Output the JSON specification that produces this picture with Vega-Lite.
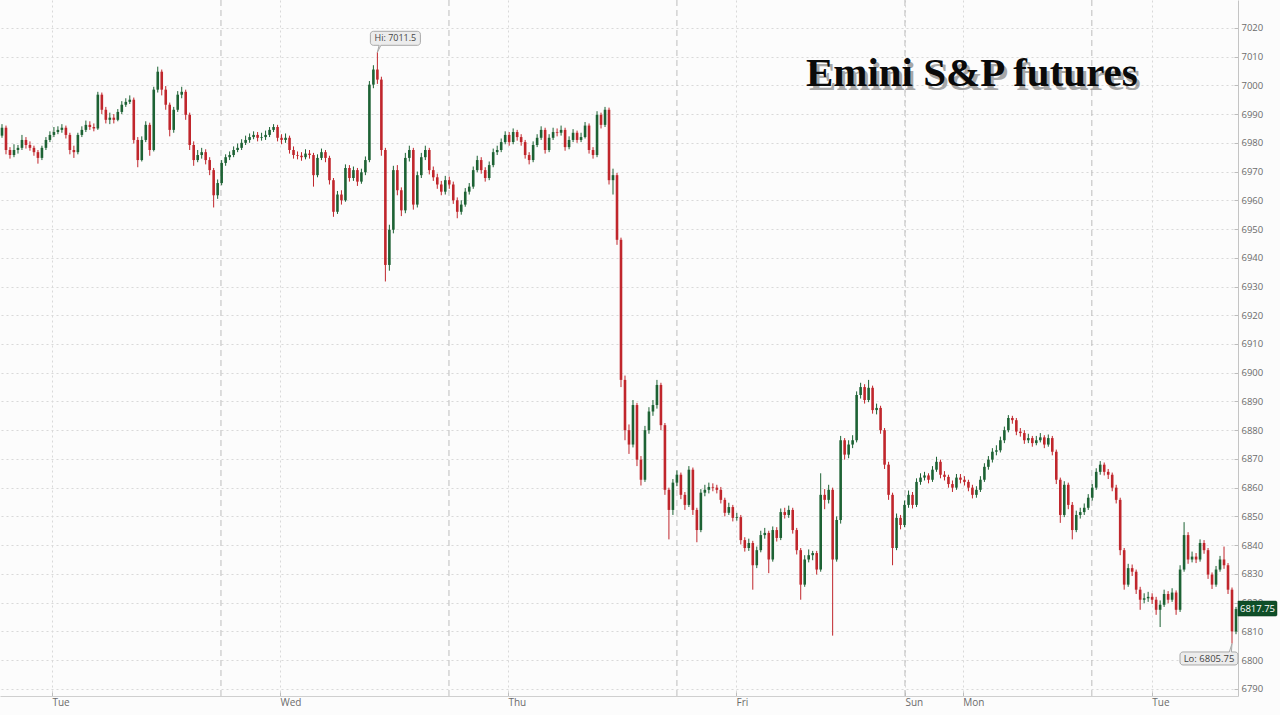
{
"$schema": "https://vega.github.io/schema/vega-lite/v6.json",
"width": 1238,
"height": 696,
"autosize": {"type": "none"},
"padding": {"left": 0, "top": 0, "right": 42, "bottom": 19},
"background": "#fcfcfc",
"config": {"view": {"stroke": null}, "axisY": {"labelOverlap": false, "labelSeparation": 0, "labelBound": false}},
"datasets": {
"candles": [
{"i":0,"o":6982.5,"h":6986.5,"l":6981.75,"c":6985.25},
{"i":1,"o":6985.25,"h":6986,"l":6976,"c":6977.5},
{"i":2,"o":6977.5,"h":6978.5,"l":6974.5,"c":6975.75},
{"i":3,"o":6975.75,"h":6979.5,"l":6975,"c":6977.5},
{"i":4,"o":6977.5,"h":6979.25,"l":6976.25,"c":6978.25},
{"i":5,"o":6978.25,"h":6982.75,"l":6977.5,"c":6981},
{"i":6,"o":6981,"h":6982,"l":6978,"c":6979.25},
{"i":7,"o":6979.25,"h":6980.5,"l":6977.25,"c":6978.25},
{"i":8,"o":6978.25,"h":6979,"l":6975.5,"c":6976.75},
{"i":9,"o":6976.75,"h":6977.5,"l":6972.75,"c":6974.75},
{"i":10,"o":6974.75,"h":6979,"l":6974,"c":6978.25},
{"i":11,"o":6978.25,"h":6982,"l":6977.5,"c":6981},
{"i":12,"o":6981,"h":6984,"l":6980.25,"c":6982.75},
{"i":13,"o":6982.75,"h":6985.5,"l":6982,"c":6983.75},
{"i":14,"o":6983.75,"h":6985.75,"l":6983,"c":6984.5},
{"i":15,"o":6984.5,"h":6986.5,"l":6983.5,"c":6985.25},
{"i":16,"o":6985.25,"h":6986,"l":6981.5,"c":6982.75},
{"i":17,"o":6982.75,"h":6983.5,"l":6976,"c":6977.5},
{"i":18,"o":6977.5,"h":6979,"l":6974.75,"c":6976.75},
{"i":19,"o":6976.75,"h":6983.5,"l":6976,"c":6982.75},
{"i":20,"o":6982.75,"h":6985.75,"l":6982,"c":6984.5},
{"i":21,"o":6984.5,"h":6987.75,"l":6983.75,"c":6986.25},
{"i":22,"o":6986.25,"h":6987.5,"l":6984.5,"c":6985.5},
{"i":23,"o":6985.5,"h":6986.75,"l":6984,"c":6985},
{"i":24,"o":6985,"h":6997.75,"l":6984.5,"c":6996.75},
{"i":25,"o":6996.75,"h":6997.5,"l":6990,"c":6991.5},
{"i":26,"o":6991.5,"h":6992.5,"l":6986.75,"c":6988},
{"i":27,"o":6988,"h":6990.5,"l":6986.5,"c":6988.75},
{"i":28,"o":6988.75,"h":6990,"l":6986.75,"c":6988},
{"i":29,"o":6988,"h":6991.75,"l":6987.5,"c":6990.75},
{"i":30,"o":6990.75,"h":6994.5,"l":6990,"c":6993.25},
{"i":31,"o":6993.25,"h":6995.5,"l":6992.5,"c":6994.25},
{"i":32,"o":6994.25,"h":6996.5,"l":6993.5,"c":6995},
{"i":33,"o":6995,"h":6995.75,"l":6979.75,"c":6981},
{"i":34,"o":6981,"h":6982,"l":6971.5,"c":6974},
{"i":35,"o":6974,"h":6982.25,"l":6973.5,"c":6981},
{"i":36,"o":6981,"h":6987.5,"l":6980.25,"c":6986.25},
{"i":37,"o":6986.25,"h":6987,"l":6975.5,"c":6977.5},
{"i":38,"o":6977.5,"h":6999.5,"l":6977,"c":6998.5},
{"i":39,"o":6998.5,"h":7006.5,"l":6997.5,"c":7004.75},
{"i":40,"o":7004.75,"h":7005.5,"l":6996.5,"c":6998.5},
{"i":41,"o":6998.5,"h":6999.75,"l":6991.5,"c":6993.25},
{"i":42,"o":6993.25,"h":6994,"l":6982.25,"c":6984.5},
{"i":43,"o":6984.5,"h":6992.5,"l":6983.5,"c":6991.5},
{"i":44,"o":6991.5,"h":6998,"l":6990.75,"c":6996.75},
{"i":45,"o":6996.75,"h":6999.5,"l":6995.5,"c":6997.75},
{"i":46,"o":6997.75,"h":6998.5,"l":6988,"c":6989.75},
{"i":47,"o":6989.75,"h":6990.5,"l":6977.5,"c":6979.25},
{"i":48,"o":6979.25,"h":6980.5,"l":6972,"c":6974},
{"i":49,"o":6974,"h":6977.5,"l":6973.25,"c":6975.75},
{"i":50,"o":6975.75,"h":6978.25,"l":6974.5,"c":6976.75},
{"i":51,"o":6976.75,"h":6977.75,"l":6972.5,"c":6974},
{"i":52,"o":6974,"h":6975,"l":6968.75,"c":6970.5},
{"i":53,"o":6970.5,"h":6971.25,"l":6957.5,"c":6961.75},
{"i":54,"o":6961.75,"h":6967.25,"l":6960.5,"c":6966},
{"i":55,"o":6966,"h":6974,"l":6965.25,"c":6973},
{"i":56,"o":6973,"h":6976,"l":6972,"c":6975},
{"i":57,"o":6975,"h":6977,"l":6974,"c":6975.75},
{"i":58,"o":6975.75,"h":6978.75,"l":6975,"c":6977.5},
{"i":59,"o":6977.5,"h":6979.75,"l":6976.75,"c":6978.25},
{"i":60,"o":6978.25,"h":6981.25,"l":6977.5,"c":6980},
{"i":61,"o":6980,"h":6982.5,"l":6979.25,"c":6981},
{"i":62,"o":6981,"h":6983.25,"l":6980,"c":6982},
{"i":63,"o":6982,"h":6984,"l":6981.25,"c":6982.75},
{"i":64,"o":6982.75,"h":6983.75,"l":6980.5,"c":6981.75},
{"i":65,"o":6981.75,"h":6983.5,"l":6980.75,"c":6982},
{"i":66,"o":6982,"h":6984.25,"l":6981,"c":6982.75},
{"i":67,"o":6982.75,"h":6985.5,"l":6982,"c":6984.5},
{"i":68,"o":6984.5,"h":6986.5,"l":6983.75,"c":6985.5},
{"i":69,"o":6985.5,"h":6986.25,"l":6980.5,"c":6981.75},
{"i":70,"o":6981.75,"h":6983,"l":6979.5,"c":6981},
{"i":71,"o":6981,"h":6983.25,"l":6980,"c":6981.75},
{"i":72,"o":6981.75,"h":6982.5,"l":6976.25,"c":6977.5},
{"i":73,"o":6977.5,"h":6978.75,"l":6974.5,"c":6975.75},
{"i":74,"o":6975.75,"h":6977,"l":6974.25,"c":6975.5},
{"i":75,"o":6975.5,"h":6976.75,"l":6973.75,"c":6975},
{"i":76,"o":6975,"h":6977.75,"l":6974.25,"c":6976.25},
{"i":77,"o":6976.25,"h":6977.5,"l":6974.5,"c":6975.75},
{"i":78,"o":6975.75,"h":6976.5,"l":6964.75,"c":6968.75},
{"i":79,"o":6968.75,"h":6976,"l":6968,"c":6974.75},
{"i":80,"o":6974.75,"h":6978,"l":6974,"c":6976.75},
{"i":81,"o":6976.75,"h":6977.5,"l":6973.25,"c":6974.75},
{"i":82,"o":6974.75,"h":6975.5,"l":6965.5,"c":6967},
{"i":83,"o":6967,"h":6967.75,"l":6954.25,"c":6956},
{"i":84,"o":6956,"h":6963.25,"l":6955.25,"c":6962},
{"i":85,"o":6962,"h":6963.5,"l":6958.5,"c":6960},
{"i":86,"o":6960,"h":6972.5,"l":6959.5,"c":6971.25},
{"i":87,"o":6971.25,"h":6972.25,"l":6966.5,"c":6967.75},
{"i":88,"o":6967.75,"h":6971.75,"l":6966.75,"c":6970.5},
{"i":89,"o":6970.5,"h":6971.25,"l":6965,"c":6966.5},
{"i":90,"o":6966.5,"h":6971,"l":6965.75,"c":6969.75},
{"i":91,"o":6969.75,"h":6975.25,"l":6968.75,"c":6974},
{"i":92,"o":6974,"h":7001.5,"l":6973.25,"c":7000.25},
{"i":93,"o":7000.25,"h":7007,"l":6999,"c":7005.5},
{"i":94,"o":7005.5,"h":7011.5,"l":7000.5,"c":7002},
{"i":95,"o":7002,"h":7003,"l":6975.5,"c":6977.5},
{"i":96,"o":6977.5,"h":6978.25,"l":6931.75,"c":6937.5},
{"i":97,"o":6937.5,"h":6951.5,"l":6935.5,"c":6949.75},
{"i":98,"o":6949.75,"h":6972,"l":6948.5,"c":6970.5},
{"i":99,"o":6970.5,"h":6972.25,"l":6961.75,"c":6963.5},
{"i":100,"o":6963.5,"h":6964.5,"l":6954.5,"c":6956.5},
{"i":101,"o":6956.5,"h":6976.5,"l":6955.5,"c":6974.75},
{"i":102,"o":6974.75,"h":6979,"l":6973.5,"c":6977.5},
{"i":103,"o":6977.5,"h":6978.25,"l":6956.75,"c":6958.5},
{"i":104,"o":6958.5,"h":6970,"l":6957.5,"c":6968.75},
{"i":105,"o":6968.75,"h":6976.5,"l":6967.75,"c":6975},
{"i":106,"o":6975,"h":6979,"l":6974,"c":6977.5},
{"i":107,"o":6977.5,"h":6978.25,"l":6969,"c":6970.5},
{"i":108,"o":6970.5,"h":6971.75,"l":6966.75,"c":6968},
{"i":109,"o":6968,"h":6969.25,"l":6964,"c":6965.5},
{"i":110,"o":6965.5,"h":6966.75,"l":6961.75,"c":6963},
{"i":111,"o":6963,"h":6968.5,"l":6962,"c":6967},
{"i":112,"o":6967,"h":6968.25,"l":6964,"c":6965.5},
{"i":113,"o":6965.5,"h":6966.5,"l":6958.75,"c":6960},
{"i":114,"o":6960,"h":6961,"l":6953.75,"c":6956},
{"i":115,"o":6956,"h":6960,"l":6955,"c":6958.5},
{"i":116,"o":6958.5,"h":6964.25,"l":6957.75,"c":6963},
{"i":117,"o":6963,"h":6966,"l":6962,"c":6964.75},
{"i":118,"o":6964.75,"h":6971.75,"l":6964,"c":6970.5},
{"i":119,"o":6970.5,"h":6975.5,"l":6969.75,"c":6974},
{"i":120,"o":6974,"h":6975,"l":6969.25,"c":6970.5},
{"i":121,"o":6970.5,"h":6971.5,"l":6966.5,"c":6967.75},
{"i":122,"o":6967.75,"h":6973.5,"l":6967,"c":6972.25},
{"i":123,"o":6972.25,"h":6978,"l":6971.5,"c":6976.75},
{"i":124,"o":6976.75,"h":6979,"l":6975.75,"c":6977.5},
{"i":125,"o":6977.5,"h":6981.5,"l":6976.75,"c":6980.25},
{"i":126,"o":6980.25,"h":6984,"l":6979.5,"c":6982.75},
{"i":127,"o":6982.75,"h":6983.75,"l":6979,"c":6980.25},
{"i":128,"o":6980.25,"h":6985,"l":6979.5,"c":6983.75},
{"i":129,"o":6983.75,"h":6984.5,"l":6980.75,"c":6982},
{"i":130,"o":6982,"h":6983,"l":6979,"c":6980.25},
{"i":131,"o":6980.25,"h":6981,"l":6974.5,"c":6975.75},
{"i":132,"o":6975.75,"h":6976.75,"l":6972.5,"c":6974},
{"i":133,"o":6974,"h":6980.5,"l":6973.25,"c":6979.25},
{"i":134,"o":6979.25,"h":6983,"l":6978.5,"c":6981.75},
{"i":135,"o":6981.75,"h":6985.75,"l":6981,"c":6984.5},
{"i":136,"o":6984.5,"h":6985.25,"l":6976.25,"c":6977.5},
{"i":137,"o":6977.5,"h":6983,"l":6976.75,"c":6981.75},
{"i":138,"o":6981.75,"h":6985.25,"l":6981,"c":6983.75},
{"i":139,"o":6983.75,"h":6985,"l":6982.25,"c":6983.5},
{"i":140,"o":6983.5,"h":6986,"l":6982.5,"c":6984.5},
{"i":141,"o":6984.5,"h":6985.25,"l":6977.25,"c":6978.5},
{"i":142,"o":6978.5,"h":6982.25,"l":6977.75,"c":6981},
{"i":143,"o":6981,"h":6984.75,"l":6980.25,"c":6983.5},
{"i":144,"o":6983.5,"h":6984.25,"l":6980,"c":6981},
{"i":145,"o":6981,"h":6983.5,"l":6980.25,"c":6982},
{"i":146,"o":6982,"h":6987.25,"l":6981.5,"c":6986},
{"i":147,"o":6986,"h":6986.75,"l":6976.25,"c":6977.5},
{"i":148,"o":6977.5,"h":6978.5,"l":6974.5,"c":6975.75},
{"i":149,"o":6975.75,"h":6991,"l":6975,"c":6989.75},
{"i":150,"o":6989.75,"h":6990.5,"l":6985,"c":6986.25},
{"i":151,"o":6986.25,"h":6992.5,"l":6985.5,"c":6991.5},
{"i":152,"o":6991.5,"h":6992.25,"l":6965.5,"c":6967},
{"i":153,"o":6967,"h":6971,"l":6962,"c":6968.75},
{"i":154,"o":6968.75,"h":6969.5,"l":6944.5,"c":6946.25},
{"i":155,"o":6946.25,"h":6947,"l":6895,"c":6897.5},
{"i":156,"o":6897.5,"h":6899,"l":6876.5,"c":6880},
{"i":157,"o":6880,"h":6882,"l":6871.75,"c":6875},
{"i":158,"o":6875,"h":6890.5,"l":6874,"c":6888.75},
{"i":159,"o":6888.75,"h":6889.5,"l":6867.5,"c":6869.75},
{"i":160,"o":6869.75,"h":6871,"l":6860.75,"c":6862.75},
{"i":161,"o":6862.75,"h":6881.5,"l":6862,"c":6880},
{"i":162,"o":6880,"h":6888,"l":6878.75,"c":6886.5},
{"i":163,"o":6886.5,"h":6890.5,"l":6885,"c":6888.75},
{"i":164,"o":6888.75,"h":6897.5,"l":6887.5,"c":6895.75},
{"i":165,"o":6895.75,"h":6896.5,"l":6880,"c":6881.75},
{"i":166,"o":6881.75,"h":6882.5,"l":6857.5,"c":6859.25},
{"i":167,"o":6859.25,"h":6860,"l":6842,"c":6852.25},
{"i":168,"o":6852.25,"h":6863,"l":6850.5,"c":6861.75},
{"i":169,"o":6861.75,"h":6866,"l":6860.5,"c":6864.5},
{"i":170,"o":6864.5,"h":6865.25,"l":6856,"c":6857.5},
{"i":171,"o":6857.5,"h":6858.5,"l":6852.25,"c":6854},
{"i":172,"o":6854,"h":6867.5,"l":6853.25,"c":6866.25},
{"i":173,"o":6866.25,"h":6867,"l":6850.5,"c":6852.25},
{"i":174,"o":6852.25,"h":6853,"l":6841,"c":6845.25},
{"i":175,"o":6845.25,"h":6859.5,"l":6844.5,"c":6858.25},
{"i":176,"o":6858.25,"h":6861,"l":6857,"c":6859.25},
{"i":177,"o":6859.25,"h":6861.75,"l":6858,"c":6860.25},
{"i":178,"o":6860.25,"h":6861.5,"l":6858.75,"c":6860},
{"i":179,"o":6860,"h":6861,"l":6858,"c":6859.25},
{"i":180,"o":6859.25,"h":6860.25,"l":6854.5,"c":6855.75},
{"i":181,"o":6855.75,"h":6856.5,"l":6850,"c":6851.25},
{"i":182,"o":6851.25,"h":6854.75,"l":6850.5,"c":6853.25},
{"i":183,"o":6853.25,"h":6854,"l":6848.25,"c":6849.5},
{"i":184,"o":6849.5,"h":6851.25,"l":6848.5,"c":6849.75},
{"i":185,"o":6849.75,"h":6850.5,"l":6840.25,"c":6841.75},
{"i":186,"o":6841.75,"h":6842.75,"l":6837.75,"c":6839},
{"i":187,"o":6839,"h":6842.25,"l":6838,"c":6840.75},
{"i":188,"o":6840.75,"h":6841.5,"l":6824.5,"c":6833},
{"i":189,"o":6833,"h":6839.5,"l":6832,"c":6838.25},
{"i":190,"o":6838.25,"h":6845,"l":6837.5,"c":6843.5},
{"i":191,"o":6843.5,"h":6846,"l":6842.25,"c":6844.25},
{"i":192,"o":6844.25,"h":6845,"l":6830.25,"c":6835},
{"i":193,"o":6835,"h":6846.5,"l":6834.25,"c":6845.25},
{"i":194,"o":6845.25,"h":6846.25,"l":6841.25,"c":6842.5},
{"i":195,"o":6842.5,"h":6852.75,"l":6841.75,"c":6851.5},
{"i":196,"o":6851.5,"h":6853,"l":6849.25,"c":6850.5},
{"i":197,"o":6850.5,"h":6853.75,"l":6849.5,"c":6852.25},
{"i":198,"o":6852.25,"h":6853,"l":6844,"c":6845.25},
{"i":199,"o":6845.25,"h":6846,"l":6836.75,"c":6838.25},
{"i":200,"o":6838.25,"h":6839,"l":6821,"c":6826.25},
{"i":201,"o":6826.25,"h":6836.5,"l":6825.5,"c":6835},
{"i":202,"o":6835,"h":6838.5,"l":6834,"c":6836.5},
{"i":203,"o":6836.5,"h":6838,"l":6834.75,"c":6837.25},
{"i":204,"o":6837.25,"h":6838,"l":6829.75,"c":6831.5},
{"i":205,"o":6831.5,"h":6865,"l":6830.75,"c":6857.5},
{"i":206,"o":6857.5,"h":6859.5,"l":6852.5,"c":6855.75},
{"i":207,"o":6855.75,"h":6861,"l":6854.5,"c":6859.25},
{"i":208,"o":6859.25,"h":6860,"l":6808.5,"c":6835},
{"i":209,"o":6835,"h":6850,"l":6834.25,"c":6848.75},
{"i":210,"o":6848.75,"h":6878,"l":6847.5,"c":6876.5},
{"i":211,"o":6876.5,"h":6877.25,"l":6869.75,"c":6871.5},
{"i":212,"o":6871.5,"h":6876.5,"l":6870.25,"c":6875},
{"i":213,"o":6875,"h":6878.25,"l":6873.75,"c":6876.5},
{"i":214,"o":6876.5,"h":6893.5,"l":6875.75,"c":6892.25},
{"i":215,"o":6892.25,"h":6896.5,"l":6891,"c":6895},
{"i":216,"o":6895,"h":6896,"l":6889.25,"c":6890.5},
{"i":217,"o":6890.5,"h":6897.5,"l":6889.75,"c":6894.75},
{"i":218,"o":6894.75,"h":6895.5,"l":6885.75,"c":6887},
{"i":219,"o":6887,"h":6889.25,"l":6885.5,"c":6887.75},
{"i":220,"o":6887.75,"h":6888.5,"l":6878.75,"c":6880},
{"i":221,"o":6880,"h":6880.75,"l":6866.5,"c":6868},
{"i":222,"o":6868,"h":6869,"l":6855.75,"c":6857.5},
{"i":223,"o":6857.5,"h":6858.25,"l":6833,"c":6839},
{"i":224,"o":6839,"h":6851,"l":6838.25,"c":6849.5},
{"i":225,"o":6849.5,"h":6850.5,"l":6845.5,"c":6847},
{"i":226,"o":6847,"h":6855.5,"l":6846.25,"c":6854},
{"i":227,"o":6854,"h":6859,"l":6853,"c":6857.5},
{"i":228,"o":6857.5,"h":6858.5,"l":6852.75,"c":6854},
{"i":229,"o":6854,"h":6863.25,"l":6853.25,"c":6862},
{"i":230,"o":6862,"h":6865,"l":6861,"c":6863.5},
{"i":231,"o":6863.5,"h":6865.5,"l":6862.5,"c":6864.25},
{"i":232,"o":6864.25,"h":6865,"l":6861.5,"c":6862.75},
{"i":233,"o":6862.75,"h":6867.5,"l":6862,"c":6866.25},
{"i":234,"o":6866.25,"h":6870.75,"l":6865.5,"c":6869},
{"i":235,"o":6869,"h":6869.75,"l":6863.25,"c":6864.5},
{"i":236,"o":6864.5,"h":6865.75,"l":6862.5,"c":6863.75},
{"i":237,"o":6863.75,"h":6864.5,"l":6860,"c":6861.25},
{"i":238,"o":6861.25,"h":6862.5,"l":6858.5,"c":6860},
{"i":239,"o":6860,"h":6864.75,"l":6859.25,"c":6863.5},
{"i":240,"o":6863.5,"h":6864.75,"l":6861.5,"c":6862.75},
{"i":241,"o":6862.75,"h":6864,"l":6860.75,"c":6862},
{"i":242,"o":6862,"h":6862.75,"l":6858.75,"c":6860},
{"i":243,"o":6860,"h":6861,"l":6856.25,"c":6857.5},
{"i":244,"o":6857.5,"h":6860.5,"l":6856.5,"c":6859.25},
{"i":245,"o":6859.25,"h":6864,"l":6858.5,"c":6862.75},
{"i":246,"o":6862.75,"h":6868.5,"l":6862,"c":6867.25},
{"i":247,"o":6867.25,"h":6871,"l":6866.25,"c":6869.75},
{"i":248,"o":6869.75,"h":6873.75,"l":6868.75,"c":6872.5},
{"i":249,"o":6872.5,"h":6874.75,"l":6871.25,"c":6873},
{"i":250,"o":6873,"h":6877.75,"l":6872.25,"c":6876.5},
{"i":251,"o":6876.5,"h":6881.25,"l":6875.5,"c":6880},
{"i":252,"o":6880,"h":6885.25,"l":6879.25,"c":6884.25},
{"i":253,"o":6884.25,"h":6885,"l":6882.25,"c":6883.5},
{"i":254,"o":6883.5,"h":6884.25,"l":6878.25,"c":6879.5},
{"i":255,"o":6879.5,"h":6880.75,"l":6877.75,"c":6879},
{"i":256,"o":6879,"h":6880,"l":6875.25,"c":6876.5},
{"i":257,"o":6876.5,"h":6878.75,"l":6875.5,"c":6877.25},
{"i":258,"o":6877.25,"h":6878,"l":6874.25,"c":6875.5},
{"i":259,"o":6875.5,"h":6878,"l":6874.75,"c":6876.5},
{"i":260,"o":6876.5,"h":6879,"l":6875.75,"c":6877.5},
{"i":261,"o":6877.5,"h":6878.25,"l":6873.75,"c":6875},
{"i":262,"o":6875,"h":6878.5,"l":6874.25,"c":6877.25},
{"i":263,"o":6877.25,"h":6878,"l":6871.25,"c":6872.5},
{"i":264,"o":6872.5,"h":6873.25,"l":6861.25,"c":6862.75},
{"i":265,"o":6862.75,"h":6863.5,"l":6847.75,"c":6850.5},
{"i":266,"o":6850.5,"h":6862.25,"l":6849.75,"c":6861},
{"i":267,"o":6861,"h":6861.75,"l":6852.5,"c":6854},
{"i":268,"o":6854,"h":6855,"l":6842,"c":6845.25},
{"i":269,"o":6845.25,"h":6852,"l":6844.5,"c":6850.5},
{"i":270,"o":6850.5,"h":6853,"l":6849.25,"c":6851.5},
{"i":271,"o":6851.5,"h":6854.5,"l":6850.5,"c":6853},
{"i":272,"o":6853,"h":6857.75,"l":6852.25,"c":6856.5},
{"i":273,"o":6856.5,"h":6861.25,"l":6855.5,"c":6860},
{"i":274,"o":6860,"h":6866.75,"l":6859.25,"c":6865.5},
{"i":275,"o":6865.5,"h":6869.25,"l":6864.5,"c":6868},
{"i":276,"o":6868,"h":6868.75,"l":6864.25,"c":6865.5},
{"i":277,"o":6865.5,"h":6866.5,"l":6863,"c":6864.5},
{"i":278,"o":6864.5,"h":6865.25,"l":6858.75,"c":6860},
{"i":279,"o":6860,"h":6861,"l":6854.5,"c":6855.75},
{"i":280,"o":6855.75,"h":6856.5,"l":6836.5,"c":6838.25},
{"i":281,"o":6838.25,"h":6839,"l":6824.5,"c":6826.25},
{"i":282,"o":6826.25,"h":6833.5,"l":6825.5,"c":6832},
{"i":283,"o":6832,"h":6833.25,"l":6829.25,"c":6830.75},
{"i":284,"o":6830.75,"h":6831.5,"l":6823,"c":6824.5},
{"i":285,"o":6824.5,"h":6825.5,"l":6817.5,"c":6821},
{"i":286,"o":6821,"h":6823.25,"l":6819.75,"c":6821.5},
{"i":287,"o":6821.5,"h":6823.75,"l":6820.25,"c":6822},
{"i":288,"o":6822,"h":6823.25,"l":6819.5,"c":6821},
{"i":289,"o":6821,"h":6822,"l":6815.75,"c":6817.5},
{"i":290,"o":6817.5,"h":6820.75,"l":6811.5,"c":6819.25},
{"i":291,"o":6819.25,"h":6824.5,"l":6818.5,"c":6823},
{"i":292,"o":6823,"h":6824,"l":6819.75,"c":6821},
{"i":293,"o":6821,"h":6825,"l":6820.25,"c":6823.5},
{"i":294,"o":6823.5,"h":6824.25,"l":6815.75,"c":6817.5},
{"i":295,"o":6817.5,"h":6833,"l":6816.75,"c":6831.5},
{"i":296,"o":6831.5,"h":6848,"l":6830.75,"c":6843.5},
{"i":297,"o":6843.5,"h":6844.5,"l":6833.5,"c":6835},
{"i":298,"o":6835,"h":6837.75,"l":6834,"c":6836},
{"i":299,"o":6836,"h":6837.25,"l":6833.75,"c":6835},
{"i":300,"o":6835,"h":6842,"l":6834.25,"c":6840.75},
{"i":301,"o":6840.75,"h":6841.75,"l":6837,"c":6838.25},
{"i":302,"o":6838.25,"h":6839,"l":6828.25,"c":6829.75},
{"i":303,"o":6829.75,"h":6830.5,"l":6824.75,"c":6826.25},
{"i":304,"o":6826.25,"h":6832.75,"l":6825.5,"c":6831.5},
{"i":305,"o":6831.5,"h":6836.25,"l":6830.75,"c":6835},
{"i":306,"o":6835,"h":6839.5,"l":6831.75,"c":6833},
{"i":307,"o":6833,"h":6833.75,"l":6823,"c":6824.5},
{"i":308,"o":6824.5,"h":6825.25,"l":6805.75,"c":6810},
{"i":309,"o":6810,"h":6818.5,"l":6809,"c":6817.75}
],
"sessions": [{"i":54.83},{"i":111.92},{"i":169.0},{"i":226.1},{"i":272.9}],
"title": [{"i":201.3,"p":6999.8,"label":"Emini S&P futures"}],
"hi": [{"i":94,"p":7011.5,"label":"Hi: 7011.5"}],
"lo": [{"i":308,"p":6805.75,"label":"Lo: 6805.75"}],
"last": [{"i":309,"p":6817.75,"label":"6817.75"}]
},
"layer": [
{
"data": {"name": "sessions"},
"mark": {"type": "rule", "color": "#bdbdbd", "strokeWidth": 1, "strokeDash": [6, 4]},
"encoding": {
"x": {"field": "i", "type": "quantitative",
"scale": {"domain": [-0.5, 309.5], "nice": false, "zero": false, "padding": 0},
"axis": {
"orient": "bottom",
"title": null,
"values": [12.5, 69.6, 126.7, 183.8, 226.1, 240.6, 287.9],
"labelExpr": "datum.value < 40 ? 'Tue' : datum.value < 100 ? 'Wed' : datum.value < 150 ? 'Thu' : datum.value < 200 ? 'Fri' : datum.value < 233 ? 'Sun' : datum.value < 260 ? 'Mon' : 'Tue'",
"labelAlign": "left",
"labelFlush": false,
"labelOverlap": false,
"labelColor": "#6b6b6b",
"labelFont": "Open Sans",
"labelFontSize": 10,
"labelPadding": 10,
"labelBaseline": "middle",
"domainColor": "#cfcfcf",
"tickColor": "#bdbdbd",
"tickSize": -4,
"grid": true,
"gridColor": "#d9d9d9",
"gridDash": [2, 3]
}
}
}
},
{
"data": {"name": "candles"},
"mark": {"type": "rule", "strokeWidth": 1},
"encoding": {
"x": {"field": "i", "type": "quantitative"},
"y": {"field": "l", "type": "quantitative",
"scale": {"domain": [6787.5, 7029.7], "nice": false, "zero": false},
"axis": {
"orient": "right",
"title": null,
"values": [6790,6800,6810,6820,6830,6840,6850,6860,6870,6880,6890,6900,6910,6920,6930,6940,6950,6960,6970,6980,6990,7000,7010,7020],
"tickCount": 24,
"format": "d",
"labelOverlap": false,
"labelSeparation": 0,
"labelColor": "#6b6b6b",
"labelFont": "Open Sans",
"labelFontSize": 9.5,
"labelPadding": 7,
"labelBaseline": "middle",
"domainColor": "#c4c4c4",
"tickColor": "#bdbdbd",
"tickSize": -4,
"grid": true,
"gridColor": "#d9d9d9",
"gridDash": [2, 3]
}
},
"y2": {"field": "h"},
"color": {"condition": {"test": "datum.c >= datum.o", "value": "#1d6234"}, "value": "#c0262c"}
}
},
{
"data": {"name": "candles"},
"mark": {"type": "bar", "width": 2.6},
"encoding": {
"x": {"field": "i", "type": "quantitative"},
"y": {"field": "o", "type": "quantitative"},
"y2": {"field": "c"},
"color": {"condition": {"test": "datum.c >= datum.o", "value": "#1d6234"}, "value": "#c0262c"}
}
},
{
"data": {"name": "title"},
"mark": {"type": "text", "font": "Liberation Serif", "fontWeight": "bold", "fontSize": 41, "align": "left", "baseline": "alphabetic", "color": "#555555", "opacity": 0.5, "dx": 3, "dy": 4},
"encoding": {"x": {"field": "i", "type": "quantitative"}, "y": {"field": "p", "type": "quantitative"}, "text": {"field": "label"}}
},
{
"data": {"name": "title"},
"mark": {"type": "text", "font": "Liberation Serif", "fontWeight": "bold", "fontSize": 41, "align": "left", "baseline": "alphabetic", "color": "#0a0a0a"},
"encoding": {"x": {"field": "i", "type": "quantitative"}, "y": {"field": "p", "type": "quantitative"}, "text": {"field": "label"}}
},
{
"data": {"name": "hi"},
"mark": {"type": "point", "filled": true, "opacity": 1, "fill": "#ececec", "stroke": "#a8a8a8", "strokeWidth": 1, "size": 10000,
"shape": "M-0.08,-0.42 H0.8 A0.06,0.06 0 0 1 0.86,-0.36 V-0.2 A0.06,0.06 0 0 1 0.8,-0.14 H0.07 L0,0 L0.035,-0.14 H-0.08 A0.06,0.06 0 0 1 -0.14,-0.2 V-0.36 A0.06,0.06 0 0 1 -0.08,-0.42 Z"},
"encoding": {"x": {"field": "i", "type": "quantitative"}, "y": {"field": "p", "type": "quantitative"}}
},
{
"data": {"name": "hi"},
"mark": {"type": "text", "font": "Open Sans", "fontSize": 9, "color": "#444444", "align": "center", "baseline": "middle", "dx": 18, "dy": -14},
"encoding": {"x": {"field": "i", "type": "quantitative"}, "y": {"field": "p", "type": "quantitative"}, "text": {"field": "label"}}
},
{
"data": {"name": "lo"},
"mark": {"type": "point", "filled": true, "opacity": 1, "fill": "#ececec", "stroke": "#a8a8a8", "strokeWidth": 1, "size": 14400,
"shape": "M-0.817,0.14 H-0.045 L0,0 L-0.01,0.14 H0.05 A0.05,0.05 0 0 1 0.1,0.19 V0.307 A0.05,0.05 0 0 1 0.05,0.357 H-0.817 A0.05,0.05 0 0 1 -0.867,0.307 V0.19 A0.05,0.05 0 0 1 -0.817,0.14 Z"},
"encoding": {"x": {"field": "i", "type": "quantitative"}, "y": {"field": "p", "type": "quantitative"}}
},
{
"data": {"name": "lo"},
"mark": {"type": "text", "font": "Open Sans", "fontSize": 9.5, "color": "#444444", "align": "center", "baseline": "middle", "dx": -23, "dy": 15},
"encoding": {"x": {"field": "i", "type": "quantitative"}, "y": {"field": "p", "type": "quantitative"}, "text": {"field": "label"}}
},
{
"data": {"name": "last"},
"mark": {"type": "point", "filled": true, "opacity": 1, "fill": "#0f4f28", "stroke": "#0b3d1f", "strokeWidth": 0.5, "size": 8100,
"shape": "M0.044,-0.178 H0.88 A0.03,0.03 0 0 1 0.911,-0.148 V0.126 A0.03,0.03 0 0 1 0.88,0.156 H0.044 Z"},
"encoding": {"x": {"field": "i", "type": "quantitative"}, "y": {"field": "p", "type": "quantitative"}}
},
{
"data": {"name": "last"},
"mark": {"type": "text", "font": "Open Sans", "fontSize": 9.5, "color": "#ffffff", "align": "center", "baseline": "middle", "dx": 21.5, "dy": -0.5},
"encoding": {"x": {"field": "i", "type": "quantitative"}, "y": {"field": "p", "type": "quantitative"}, "text": {"field": "label"}}
}
]
}
